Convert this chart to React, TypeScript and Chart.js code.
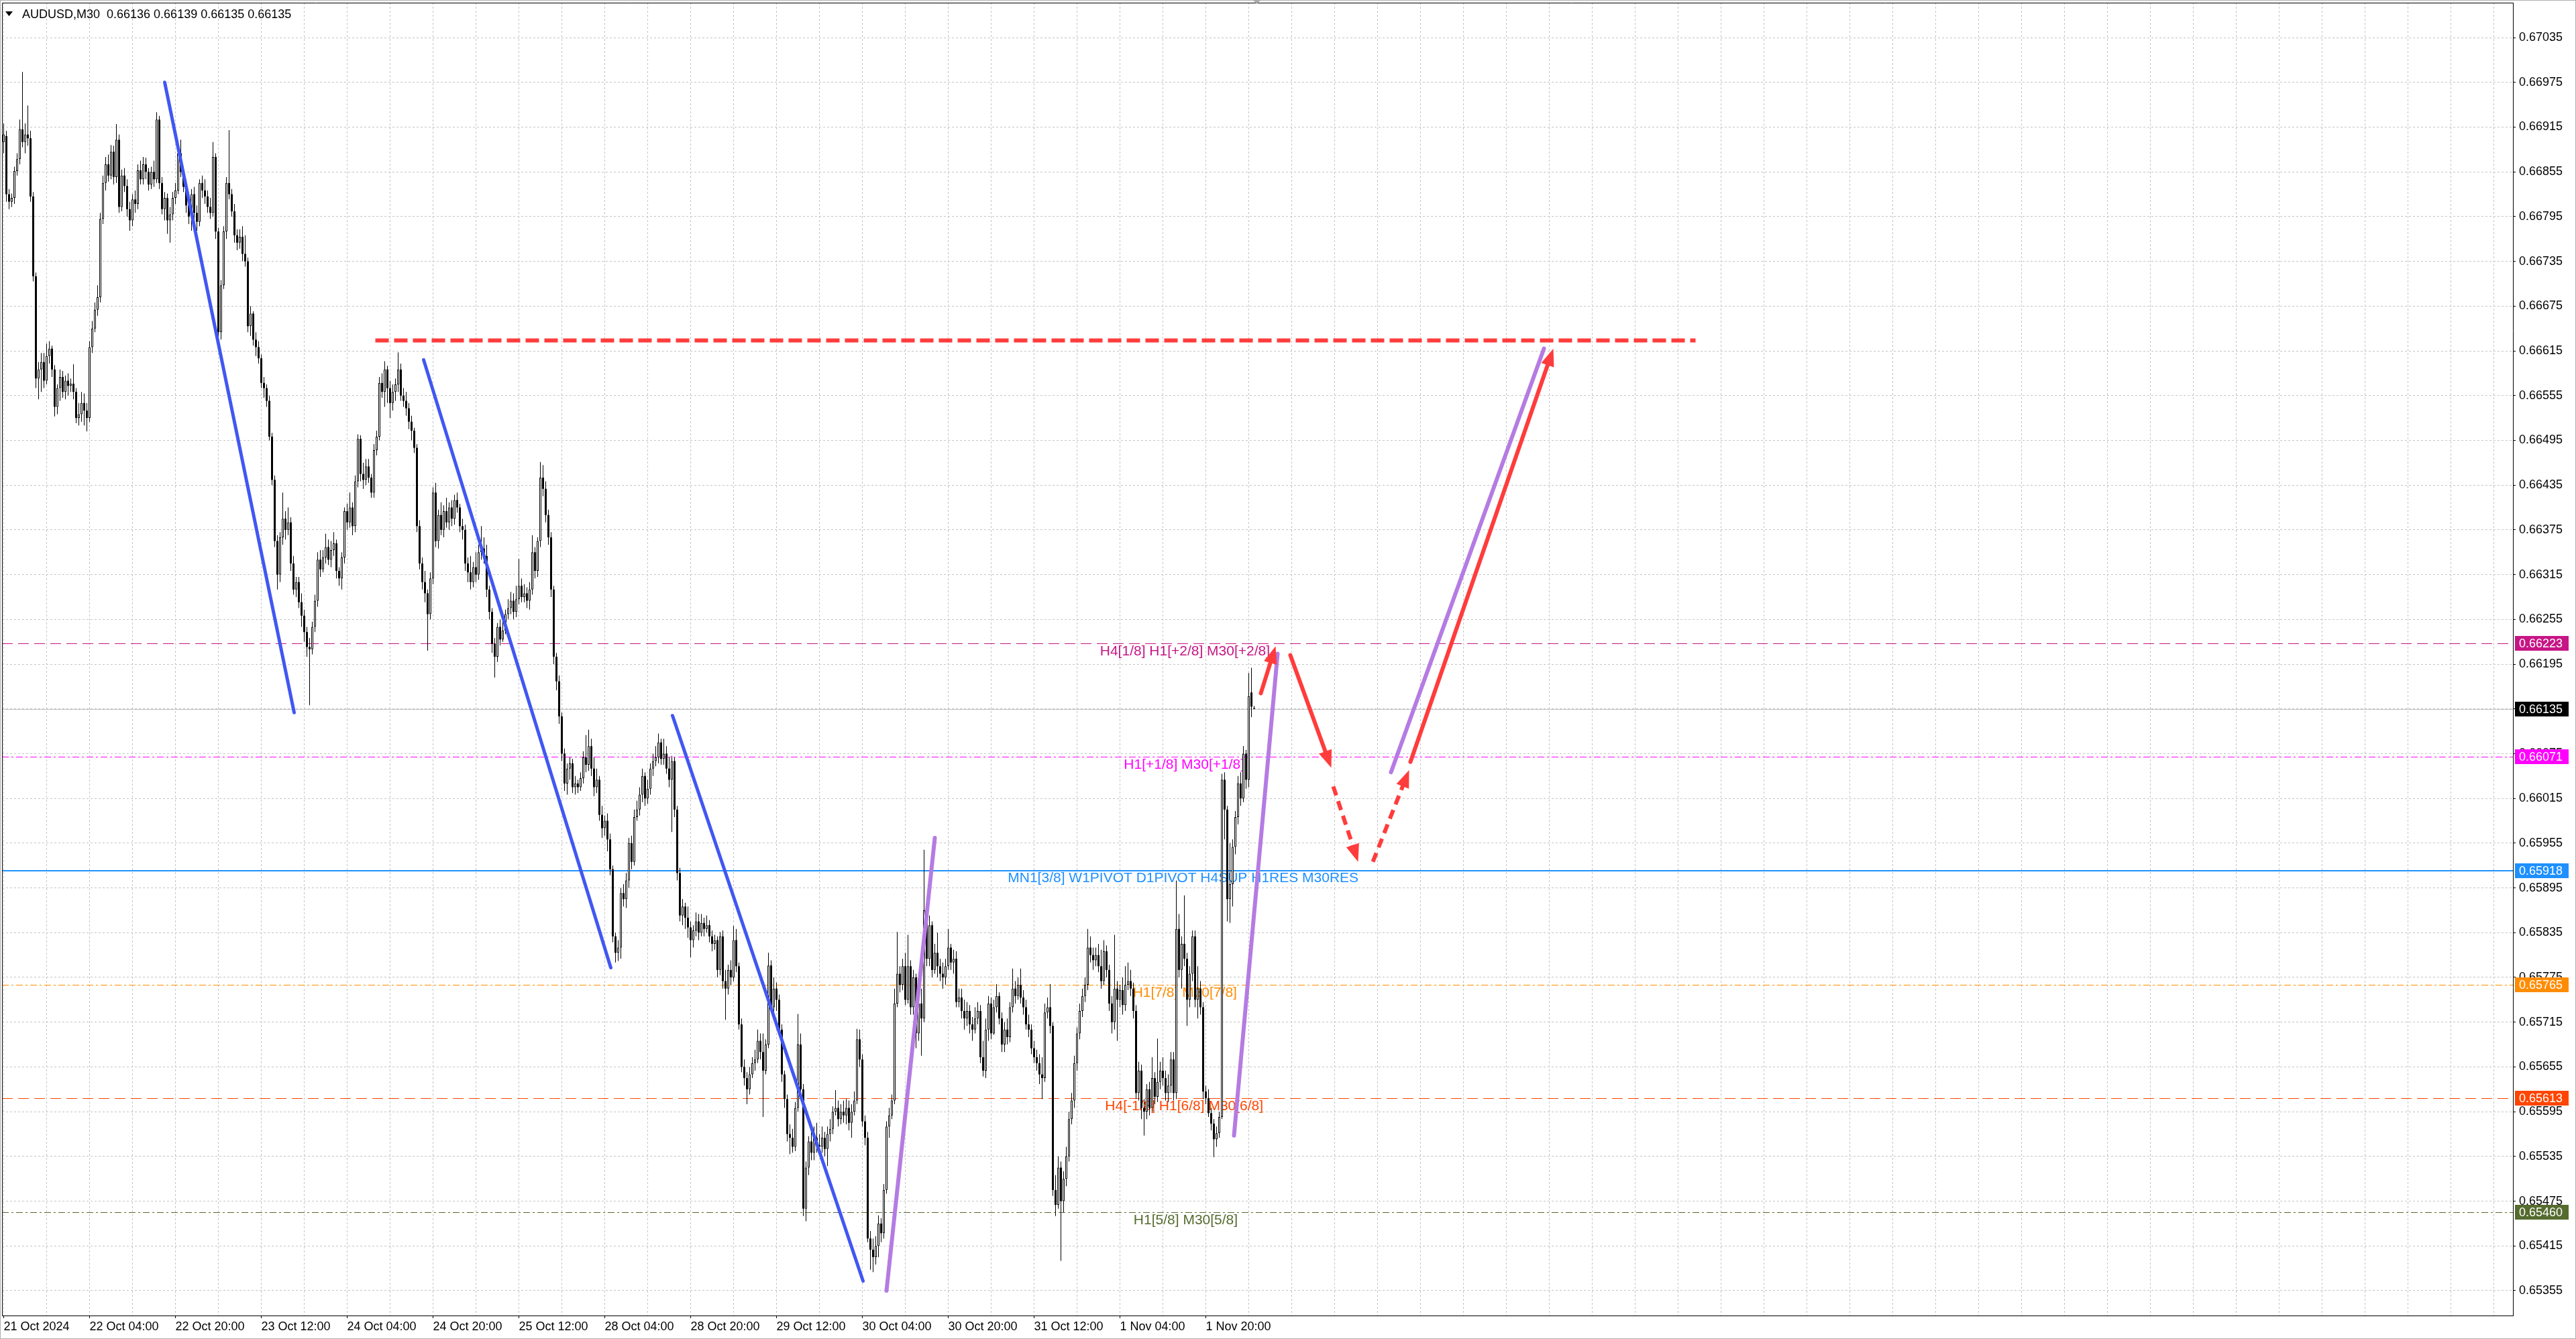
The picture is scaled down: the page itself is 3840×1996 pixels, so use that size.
import React, { useEffect, useRef } from 'react';
import { Chart, registerables } from 'chart.js';

Chart.register(...registerables);

// ---------------- data ----------------
const headerSymbol = 'AUDUSD,M30';
const headerQuote = [0.66136, 0.66139, 0.66135, 0.66135];

// M30 candles, prices in points (0.00001) above 0.65000
const PRICE_BASE = 0.65;
const POINT = 0.00001;

const opens = [
1895,1903,1825,1815,1820,1856,1872,1912,1895,1905,
1900,1822,1715,1578,1590,1600,1575,1608,1618,1590,
1540,1565,1580,1560,1575,1568,1571,1560,1525,1530,
1545,1535,1525,1620,1645,1670,1687,1792,1840,1865,
1850,1882,1848,1898,1808,1850,1836,1805,1790,1818,
1812,1857,1845,1865,1855,1838,1855,1845,1925,1840,
1805,1820,1790,1798,1820,1830,1880,1855,1835,1810,
1795,1825,1800,1788,1840,1830,1822,1808,1800,1875,
1775,1640,1703,1775,1840,1825,1802,1770,1760,1768,
1745,1735,1648,1665,1630,1620,1605,1572,1565,1548,
1500,1442,1360,1315,1365,1390,1375,1385,1330,1295,
1305,1278,1260,1238,1218,1215,1245,1280,1335,1322,
1338,1352,1335,1348,1357,1320,1310,1338,1400,1385,
1405,1380,1440,1497,1450,1442,1460,1445,1425,1482,
1500,1572,1560,1590,1565,1545,1560,1570,1590,1555,
1548,1538,1520,1508,1485,1380,1330,1305,1290,1262,
1310,1425,1360,1395,1375,1400,1385,1405,1390,1415,
1405,1380,1375,1330,1318,1305,1325,1315,1345,1350,
1340,1295,1265,1222,1205,1245,1228,1240,1262,1270,
1280,1265,1282,1300,1285,1290,1280,1295,1345,1320,
1360,1445,1430,1395,1365,1295,1205,1172,1125,1075,
1035,1055,1062,1030,1035,1030,1042,1070,1060,1085,
1055,1030,1040,993,975,985,960,920,830,808,
815,888,880,905,955,930,990,1000,1020,1045,
1015,1028,1055,1065,1070,1090,1068,1075,1055,1040,
1065,1000,915,858,870,855,842,825,838,850,
835,848,840,845,830,820,825,785,830,770,
760,785,775,825,790,712,655,640,625,645,
660,665,690,675,650,685,791,735,760,745,
705,645,612,565,560,548,600,685,625,465,
520,555,540,560,550,548,560,545,565,572,
595,600,585,595,590,600,580,595,610,692,
665,582,560,425,410,400,415,445,432,490,
575,590,610,740,780,765,790,745,790,735,
775,700,740,720,865,800,845,785,808,790,
780,775,790,815,795,800,742,748,730,720,
730,712,705,720,730,668,650,705,740,700,
735,750,720,685,705,695,735,760,750,765,
748,735,712,705,680,668,660,645,640,728,
735,710,490,470,520,475,505,535,585,610,
660,700,730,750,765,815,805,798,805,790,
770,810,785,740,715,760,745,758,738,765,
770,760,730,620,650,600,595,625,600,640,
615,635,650,640,620,630,665,620,840,785,
820,800,745,780,830,745,760,735,622,613,
593,579,558,566,588,1040,1000,880,900,950,
990,1035,1015,1075,1040,1157,1136
];

const highs = [
1920,1910,1832,1826,1862,1880,1925,1989,1920,1944,
1910,1828,1720,1600,1612,1612,1625,1628,1622,1596,
1570,1590,1588,1582,1585,1578,1597,1565,1545,1560,
1558,1545,1628,1655,1680,1703,1800,1850,1875,1878,
1891,1890,1919,1905,1858,1860,1845,1815,1825,1830,
1865,1870,1875,1874,1860,1862,1870,1935,1930,1848,
1828,1826,1808,1828,1840,1888,1898,1862,1845,1820,
1832,1835,1810,1845,1850,1845,1830,1820,1895,1880,
1780,1710,1782,1848,1911,1832,1812,1778,1778,1782,
1770,1740,1675,1668,1640,1628,1610,1580,1570,1555,
1505,1448,1368,1372,1425,1400,1405,1392,1340,1312,
1312,1290,1268,1245,1230,1252,1288,1345,1348,1348,
1370,1362,1360,1372,1362,1325,1345,1405,1410,1425,
1412,1448,1503,1502,1465,1470,1470,1450,1490,1508,
1580,1585,1601,1595,1575,1570,1578,1613,1598,1565,
1560,1545,1528,1512,1490,1388,1338,1320,1295,1318,
1432,1438,1402,1412,1408,1418,1412,1415,1422,1425,
1410,1390,1382,1338,1340,1332,1345,1355,1380,1365,
1355,1300,1270,1230,1250,1255,1258,1268,1282,1292,
1290,1300,1336,1310,1302,1298,1305,1368,1352,1365,
1466,1462,1440,1402,1372,1300,1210,1180,1130,1082,
1062,1070,1068,1045,1040,1050,1078,1100,1107,1095,
1070,1055,1045,1005,992,995,968,925,835,825,
895,900,915,962,965,1000,1012,1030,1055,1050,
1040,1062,1075,1085,1102,1095,1095,1085,1070,1072,
1070,1005,922,880,875,870,850,845,862,860,
860,855,858,852,838,832,830,836,838,785,
792,798,844,840,795,720,665,648,655,668,
678,705,700,700,692,808,798,775,768,752,
712,650,618,578,572,608,726,700,632,528,
562,570,575,580,565,575,568,575,585,602,
624,610,605,610,612,610,605,622,706,705,
672,590,568,435,425,428,456,452,498,582,
600,618,760,836,790,800,808,832,798,785,
780,752,760,946,880,858,850,820,835,800,
795,800,840,820,812,810,760,760,745,742,
738,722,735,742,738,690,720,750,748,745,
766,755,728,715,720,742,787,770,775,787,
758,745,725,712,690,678,672,668,740,748,
766,715,510,535,528,515,548,595,620,670,
708,740,760,775,840,830,815,815,820,812,
825,818,792,750,832,770,765,775,790,795,
785,768,738,662,658,612,632,635,668,648,
693,662,668,650,645,675,675,905,860,830,
885,808,790,838,838,790,770,742,630,625,
600,585,575,595,1048,1050,1005,955,960,998,
1045,1050,1085,1080,1183,1190,1139
];

const lows = [
1880,1815,1805,1808,1812,1850,1865,1888,1880,1890,
1815,1708,1565,1550,1560,1565,1570,1598,1580,1527,
1530,1548,1552,1550,1555,1560,1550,1518,1515,1520,
1515,1507,1520,1612,1640,1662,1680,1785,1830,1842,
1845,1838,1840,1800,1802,1828,1795,1776,1782,1800,
1805,1838,1838,1845,1830,1832,1835,1840,1832,1798,
1790,1772,1760,1790,1812,1825,1848,1828,1800,1785,
1776,1790,1776,1782,1820,1812,1800,1792,1795,1765,
1630,1630,1698,1765,1818,1795,1760,1750,1752,1735,
1728,1640,1635,1622,1608,1598,1565,1552,1540,1495,
1435,1352,1295,1305,1355,1362,1368,1320,1288,1285,
1270,1245,1225,1205,1140,1208,1238,1272,1312,1318,
1330,1328,1325,1340,1310,1300,1295,1330,1375,1378,
1368,1372,1432,1440,1430,1435,1438,1418,1418,1475,
1495,1552,1540,1545,1525,1535,1548,1560,1548,1540,
1528,1510,1495,1478,1372,1322,1295,1278,1213,1255,
1302,1352,1350,1368,1365,1378,1375,1380,1382,1398,
1372,1362,1320,1305,1295,1298,1305,1308,1335,1330,
1285,1255,1210,1177,1198,1220,1225,1235,1255,1262,
1255,1258,1275,1278,1278,1270,1268,1288,1310,1312,
1352,1420,1385,1355,1285,1195,1160,1115,1065,1025,
1020,1040,1022,1020,1022,1025,1035,1050,1052,1045,
1018,1022,985,962,965,944,912,822,795,797,
800,870,868,895,920,925,985,992,1010,1005,
1008,1020,1045,1058,1062,1060,1060,1048,1030,970,
990,905,850,845,840,828,802,815,830,825,
830,830,835,822,810,812,775,778,760,718,
752,765,770,782,705,648,630,605,618,640,
650,660,665,588,645,680,728,720,730,698,
635,600,555,538,540,542,595,615,455,448,
510,530,530,540,535,540,535,522,555,565,
590,575,578,580,578,570,560,590,605,655,
575,550,420,383,380,390,400,420,425,485,
560,585,605,735,755,758,738,740,725,725,
680,690,670,715,790,790,775,780,775,770,
760,765,785,785,780,735,735,720,705,710,
700,690,700,712,660,642,640,690,692,698,
728,712,675,675,685,688,728,740,745,740,
725,705,695,672,660,650,632,612,635,720,
700,482,455,465,395,460,495,528,578,600,
650,692,722,742,758,795,785,790,782,760,
765,775,730,700,705,690,735,725,730,758,
750,720,612,610,585,563,585,590,595,605,
608,625,630,610,608,620,610,612,775,760,
790,710,735,770,735,720,725,612,605,588,
570,534,548,560,585,960,850,848,870,940,
980,1005,1010,1028,1030,1124,1135
];

const closes = [
1905,1825,1815,1820,1856,1872,1912,1895,1905,1900,
1822,1715,1578,1590,1600,1575,1608,1618,1590,1540,
1565,1580,1560,1575,1568,1571,1560,1525,1530,1545,
1535,1525,1620,1645,1670,1687,1792,1840,1865,1850,
1882,1848,1898,1808,1850,1836,1805,1790,1818,1812,
1857,1845,1865,1855,1838,1855,1845,1925,1840,1805,
1820,1790,1798,1820,1830,1880,1855,1835,1810,1795,
1825,1800,1788,1840,1830,1822,1808,1800,1875,1775,
1640,1703,1775,1840,1825,1802,1770,1760,1768,1745,
1735,1648,1665,1630,1620,1605,1572,1565,1548,1500,
1442,1360,1315,1365,1390,1375,1385,1330,1295,1305,
1278,1260,1238,1218,1215,1245,1280,1335,1322,1338,
1352,1335,1348,1357,1320,1310,1338,1400,1385,1405,
1380,1440,1497,1450,1442,1460,1445,1425,1482,1500,
1572,1560,1590,1565,1545,1560,1570,1590,1555,1548,
1538,1520,1508,1485,1380,1330,1305,1290,1262,1310,
1425,1360,1395,1375,1400,1385,1405,1390,1415,1405,
1380,1375,1330,1318,1305,1325,1315,1345,1350,1340,
1295,1265,1222,1205,1245,1228,1240,1262,1270,1280,
1265,1282,1300,1285,1290,1280,1295,1345,1320,1360,
1445,1430,1395,1365,1295,1205,1172,1125,1075,1035,
1055,1062,1030,1035,1030,1042,1070,1060,1085,1055,
1030,1040,993,975,985,960,920,830,808,815,
888,880,905,955,930,990,1000,1020,1045,1015,
1028,1055,1065,1070,1090,1068,1075,1055,1040,1065,
1000,915,858,870,855,842,825,838,850,835,
848,840,845,830,820,825,785,830,770,760,
785,775,825,790,712,655,640,625,645,660,
665,690,675,650,685,791,735,760,745,705,
645,612,565,560,548,600,685,625,465,520,
555,540,560,550,548,560,545,565,572,595,
600,585,595,590,600,580,595,610,692,665,
582,560,425,410,400,415,445,432,490,575,
590,610,740,780,765,790,745,790,735,775,
700,740,720,865,800,845,785,808,790,780,
775,790,815,795,800,742,748,730,720,730,
712,705,720,730,668,650,705,740,700,735,
750,720,685,705,695,735,760,750,765,748,
735,712,705,680,668,660,645,640,728,735,
710,490,470,520,475,505,535,585,610,660,
700,730,750,765,815,805,798,805,790,770,
810,785,740,715,760,745,758,738,765,770,
760,730,620,650,600,595,625,600,640,615,
635,650,640,620,630,665,620,840,785,820,
800,745,780,830,745,760,735,622,613,593,
579,558,566,588,1040,1000,880,900,950,990,
1035,1015,1075,1040,1152,1138,1135
];

// time axis: bar index of each labelled tick and its text
const timeTickIndex = [0, 32, 64, 96, 128, 160, 192, 224, 256, 288, 320, 352, 384, 416, 448];
const timeTickLabels = [
  '21 Oct 2024', '22 Oct 04:00', '22 Oct 20:00', '23 Oct 12:00', '24 Oct 04:00',
  '24 Oct 20:00', '25 Oct 12:00', '28 Oct 04:00', '28 Oct 20:00', '29 Oct 12:00',
  '30 Oct 04:00', '30 Oct 20:00', '31 Oct 12:00', '1 Nov 04:00', '1 Nov 20:00'
];

// price axis ticks
const priceTicks = [
  0.67035, 0.66975, 0.66915, 0.66855, 0.66795, 0.66735, 0.66675, 0.66615, 0.66555, 0.66495,
  0.66435, 0.66375, 0.66315, 0.66255, 0.66195, 0.66135, 0.66075, 0.66015, 0.65955, 0.65895,
  0.65835, 0.65775, 0.65715, 0.65655, 0.65595, 0.65535, 0.65475, 0.65415, 0.65355
];

const currentPrice = 0.66135;

// Murrey / pivot levels
const levelPrices = [0.66223, 0.66071, 0.65918, 0.65765, 0.65613, 0.6546];
const levelLabels = [
  'H4[1/8] H1[+2/8] M30[+2/8]',
  'H1[+1/8] M30[+1/8]',
  'MN1[3/8] W1PIVOT D1PIVOT H4SUP H1RES M30RES',
  'H1[7/8] M30[7/8]',
  'H4[-1/8] H1[6/8] M30[6/8]',
  'H1[5/8] M30[5/8]'
];
const levelLabelBar = [471.9, 462.4, 504.9, 459.6, 469.4, 459.9];

// trend lines: [bar1, price1, bar2, price2]
const blueLines = [
  [60, 0.66975, 108.25, 0.6613],
  [156.5, 0.66603, 226.25, 0.65788],
  [249.25, 0.66126, 320.25, 0.65368]
];
const purpleLines = [
  [329, 0.65355, 347, 0.65962],
  [458.5, 0.65563, 474.75, 0.66209],
  [517, 0.6605, 574, 0.66618]
];
// forecast arrows: [bar1, price1, bar2, price2]
const solidArrows = [
  [468.5, 0.66156, 474, 0.66219],
  [479.5, 0.66207, 494.75, 0.66056],
  [524.25, 0.66064, 577.5, 0.66618]
];
const dashedArrows = [
  [495.5, 0.66031, 504.75, 0.6593],
  [510.25, 0.6593, 523.75, 0.66053]
];
// target line: [fromBar, toBar, price]
const targetLine = [138.5, 630.5, 0.66629];

// ---------------- styles ----------------
const FONT = '"Liberation Sans", Arial, sans-serif';
const RED = '#FF3C3C';
const BLUE = '#4157F2';
const PURPLE = '#B57BE3';
const GRID = '#C4C4C4';
const levelColors = ['#C71585', '#FF00FF', '#1E90FF', '#FF8C00', '#FF4500', '#556B2F'];
const levelStyles = ['dash', 'dashdot', 'solid', 'dashdot', 'dash', 'dashdot'];
const dashFor = (s: string) => (s === 'dash' ? [16, 8] : s === 'dashdot' ? [10, 4, 3, 4] : []);

const toPrice = (p: number) => +(PRICE_BASE + p * POINT).toFixed(5);
const gridBars = Array.from({ length: 59 }, (_, k) => k * 16);

function buildDatasets() {
  const wicks = opens.map((_, i) => ({ x: i, y: [toPrice(lows[i]), toPrice(highs[i])] }));
  const up: any[] = [];
  const down: any[] = [];
  opens.forEach((o, i) => {
    const c = closes[i];
    const pt = { x: i, y: [toPrice(o), toPrice(c)] };
    if (c >= o) up.push(pt);
    else down.push(pt);
  });
  const seg = (l: number[], color: string, width: number) => ({
    type: 'line',
    data: [{ x: l[0], y: l[1] }, { x: l[2], y: l[3] }],
    borderColor: color,
    borderWidth: width,
    borderCapStyle: 'round',
    pointRadius: 0,
    tension: 0,
    fill: false,
    order: 0
  });
  return [
    ...blueLines.map((l) => seg(l, BLUE, 5)),
    ...purpleLines.map((l) => seg(l, PURPLE, 6)),
    {
      type: 'line',
      data: [{ x: targetLine[0], y: targetLine[2] }, { x: targetLine[1], y: targetLine[2] }],
      borderColor: RED,
      borderWidth: 6,
      borderDash: [20, 8],
      borderCapStyle: 'butt',
      pointRadius: 0,
      fill: false,
      order: 0
    },
    {
      type: 'bar', data: up, backgroundColor: '#FFFFFF', borderColor: '#000000', borderWidth: 1,
      borderSkipped: false, barThickness: 3, grouped: false, inflateAmount: 0, minBarLength: 1, order: 1
    },
    {
      type: 'bar', data: down, backgroundColor: '#000000', borderWidth: 0,
      borderSkipped: false, barThickness: 3, grouped: false, inflateAmount: 0, minBarLength: 1, order: 1
    },
    {
      type: 'bar', data: wicks, backgroundColor: '#000000', borderWidth: 0,
      borderSkipped: false, barThickness: 1, grouped: false, inflateAmount: 0, order: 2
    }
  ];
}

const mt4Plugin = {
  id: 'mt4Decor',
  beforeDraw(chart: any) {
    const { ctx, width, height } = chart;
    ctx.save();
    ctx.fillStyle = '#FFFFFF';
    ctx.fillRect(0, 0, width, height);
    ctx.restore();
  },
  beforeDatasetsDraw(chart: any) {
    const { ctx, chartArea: a, scales } = chart;
    const xs = scales.x;
    const ys = scales.y;
    ctx.save();
    ctx.beginPath();
    ctx.rect(a.left, a.top, a.right - a.left, a.bottom - a.top);
    ctx.clip();
    const cy = Math.round(ys.getPixelForValue(currentPrice)) + 0.5;
    ctx.strokeStyle = '#C0C0C0';
    ctx.lineWidth = 1;
    ctx.setLineDash([]);
    ctx.beginPath();
    ctx.moveTo(a.left, cy);
    ctx.lineTo(a.right, cy);
    ctx.stroke();
    levelPrices.forEach((p, k) => {
      const w = levelStyles[k] === 'solid' ? 2 : 1;
      const base = Math.round(ys.getPixelForValue(p));
      const py = w === 2 ? base : base + 0.5;
      ctx.strokeStyle = levelColors[k];
      ctx.lineWidth = w;
      ctx.setLineDash(dashFor(levelStyles[k]));
      ctx.beginPath();
      ctx.moveTo(a.left, py);
      ctx.lineTo(a.right, py);
      ctx.stroke();
      ctx.setLineDash([]);
      ctx.font = `21px ${FONT}`;
      ctx.fillStyle = levelColors[k];
      ctx.textAlign = 'right';
      ctx.textBaseline = 'top';
      ctx.fillText(levelLabels[k], xs.getPixelForValue(levelLabelBar[k]), py + 1);
    });
    ctx.restore();
  },
  afterDatasetsDraw(chart: any) {
    const { ctx, chartArea: a, scales } = chart;
    const xs = scales.x;
    const ys = scales.y;
    ctx.save();
    ctx.beginPath();
    ctx.rect(a.left, a.top, a.right - a.left, a.bottom - a.top);
    ctx.clip();
    const draw = (l: number[], dashed: boolean) => {
      const x1 = xs.getPixelForValue(l[0]);
      const y1 = ys.getPixelForValue(l[1]);
      const x2 = xs.getPixelForValue(l[2]);
      const y2 = ys.getPixelForValue(l[3]);
      const dx = x2 - x1;
      const dy = y2 - y1;
      const len = Math.hypot(dx, dy);
      const ux = dx / len;
      const uy = dy / len;
      const head = 26;
      const half = 10;
      ctx.strokeStyle = RED;
      ctx.fillStyle = RED;
      ctx.lineWidth = 6;
      ctx.lineCap = dashed ? 'butt' : 'round';
      ctx.setLineDash(dashed ? [14, 9] : []);
      ctx.beginPath();
      ctx.moveTo(x1, y1);
      ctx.lineTo(x2 - ux * head * 0.8, y2 - uy * head * 0.8);
      ctx.stroke();
      ctx.setLineDash([]);
      ctx.beginPath();
      ctx.moveTo(x2, y2);
      ctx.lineTo(x2 - ux * head - uy * half, y2 - uy * head + ux * half);
      ctx.lineTo(x2 - ux * head + uy * half, y2 - uy * head - ux * half);
      ctx.closePath();
      ctx.fill();
    };
    solidArrows.forEach((l) => draw(l, false));
    dashedArrows.forEach((l) => draw(l, true));
    ctx.restore();
  },
  afterDraw(chart: any) {
    const { ctx, chartArea: a, scales, width, height } = chart;
    const xs = scales.x;
    const ys = scales.y;
    ctx.save();
    // plot frame (top / left)
    ctx.strokeStyle = '#000000';
    ctx.lineWidth = 1;
    ctx.beginPath();
    ctx.moveTo(a.left + 0.5, a.bottom);
    ctx.lineTo(a.left + 0.5, a.top + 0.5);
    ctx.lineTo(a.right, a.top + 0.5);
    ctx.stroke();
    // window frame
    ctx.strokeStyle = '#B0B0B0';
    ctx.strokeRect(0.5, 0.5, width - 1, height - 1);
    // price boxes on the axis
    const boxes: [number, string][] = [
      [levelPrices[0], levelColors[0]],
      [currentPrice, '#000000'],
      [levelPrices[1], levelColors[1]],
      [levelPrices[2], levelColors[2]],
      [levelPrices[3], levelColors[3]],
      [levelPrices[4], levelColors[4]],
      [levelPrices[5], levelColors[5]]
    ];
    ctx.font = `18px ${FONT}`;
    ctx.textAlign = 'left';
    ctx.textBaseline = 'middle';
    boxes.forEach(([p, c]) => {
      const py = Math.round(ys.getPixelForValue(p));
      ctx.fillStyle = c;
      ctx.fillRect(a.right + 3, py - 11, 80, 22);
      ctx.fillStyle = '#FFFFFF';
      ctx.fillText(p.toFixed(5), a.right + 9, py + 1);
    });
    // header
    ctx.fillStyle = '#000000';
    ctx.beginPath();
    ctx.moveTo(a.left + 5, a.top + 13);
    ctx.lineTo(a.left + 16, a.top + 13);
    ctx.lineTo(a.left + 10.5, a.top + 20);
    ctx.closePath();
    ctx.fill();
    ctx.font = `18px ${FONT}`;
    ctx.textBaseline = 'middle';
    ctx.fillText(`${headerSymbol}  ${headerQuote.map((v) => v.toFixed(5)).join(' ')}`, a.left + 30, a.top + 18);
    // chart shift marker
    const mx = xs.getPixelForValue(opens.length);
    ctx.fillStyle = '#A8A8A8';
    ctx.beginPath();
    ctx.moveTo(mx - 6, 0);
    ctx.lineTo(mx + 6, 0);
    ctx.lineTo(mx, 6);
    ctx.closePath();
    ctx.fill();
    ctx.restore();
  }
};

export default function App() {
  const ref = useRef<HTMLCanvasElement>(null);
  useEffect(() => {
    document.body.style.margin = '0';
    document.body.style.overflow = 'hidden';
    const canvas = ref.current;
    if (!canvas) return;
    const chart = new Chart(canvas, {
      type: 'bar',
      data: { datasets: buildDatasets() as any },
      options: {
        animation: false,
        responsive: false,
        maintainAspectRatio: false,
        devicePixelRatio: 1,
        events: [],
        layout: { padding: { left: 3, top: 4, right: 0, bottom: 0 } },
        plugins: { legend: { display: false }, tooltip: { enabled: false } },
        scales: {
          x: {
            type: 'linear',
            min: -0.625,
            max: 935.125,
            offset: false,
            bounds: 'data',
            afterBuildTicks: (s: any) => {
              s.ticks = gridBars.map((v) => ({ value: v }));
            },
            afterFit: (s: any) => {
              s.height = 35;
              s.paddingLeft = 0;
              s.paddingRight = 0;
            },
            ticks: {
              autoSkip: false,
              maxRotation: 0,
              minRotation: 0,
              align: 'start',
              padding: 2,
              color: '#000000',
              font: { family: FONT, size: 18 },
              callback: (v: any) => {
                const k = timeTickIndex.indexOf(Number(v));
                return k >= 0 ? timeTickLabels[k] : '';
              }
            },
            grid: {
              offset: false,
              color: GRID,
              lineWidth: 1,
              drawTicks: true,
              tickLength: 4,
              tickWidth: 1,
              tickColor: (c: any) => (c.tick && timeTickIndex.includes(c.tick.value) ? '#000000' : 'rgba(0,0,0,0)')
            },
            border: { display: true, color: '#000000', width: 1, dash: [3, 3] }
          } as any,
          y: {
            type: 'linear',
            position: 'right',
            min: 0.653217,
            max: 0.670818,
            beginAtZero: false,
            bounds: 'data',
            afterBuildTicks: (s: any) => {
              s.ticks = priceTicks.map((v) => ({ value: v }));
            },
            afterFit: (s: any) => {
              s.width = 94;
              s.paddingTop = 0;
              s.paddingBottom = 0;
            },
            ticks: {
              autoSkip: false,
              padding: 5,
              color: '#000000',
              font: { family: FONT, size: 18 },
              callback: (v: any) => Number(v).toFixed(5)
            },
            grid: { color: GRID, lineWidth: 1, drawTicks: true, tickLength: 4, tickColor: '#000000' },
            border: { display: true, color: '#000000', width: 1, dash: [3, 3] }
          } as any
        }
      },
      plugins: [mt4Plugin]
    } as any);
    return () => chart.destroy();
  }, []);
  return (
    <div style={{ width: 3840, height: 1996, background: '#FFFFFF' }}>
      <canvas ref={ref} width={3840} height={1996} style={{ display: 'block', width: 3840, height: 1996 }} />
    </div>
  );
}
